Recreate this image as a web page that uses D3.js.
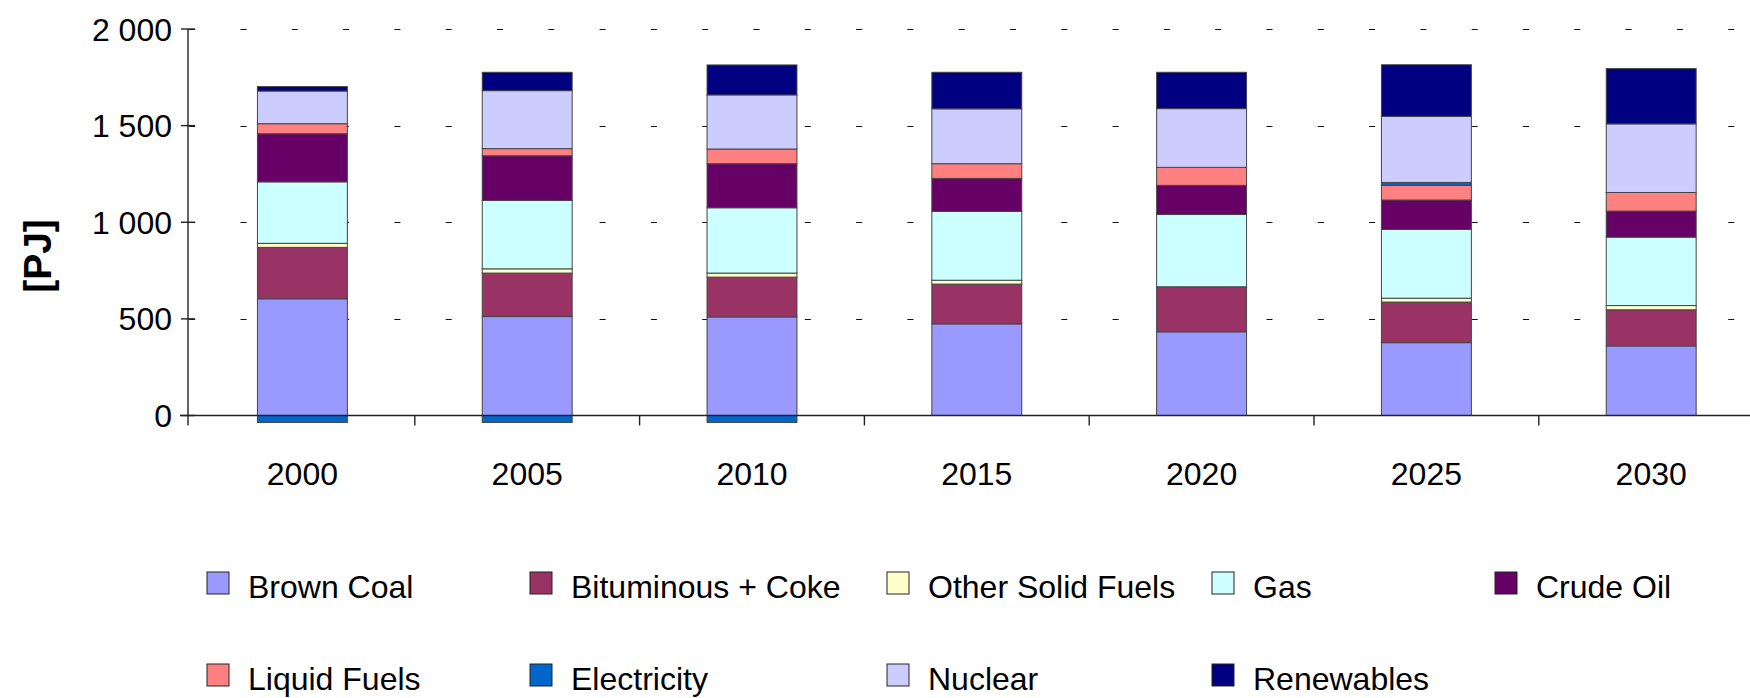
<!DOCTYPE html>
<html>
<head>
<meta charset="utf-8">
<script src="https://cdn.jsdelivr.net/npm/d3@7"></script>
<style>
  body { margin: 0; background: #fff; }
  svg { display: block; font-family: "Liberation Sans", Arial, sans-serif; }
</style>
</head>
<body>
<div id="chart"></div>
<script>
(function(d3) {
  'use strict';

  // data (PJ)
  var years = ['2000', '2005', '2010', '2015', '2020', '2025', '2030'];
  var seriesNames = ['Brown Coal', 'Bituminous + Coke', 'Other Solid Fuels', 'Gas', 'Crude Oil',
    'Liquid Fuels', 'Electricity', 'Nuclear', 'Renewables'];
  var brownCoal   = [604, 512, 510, 474, 433, 377, 360];
  var bituminous  = [266, 225, 206, 206, 231, 210, 187];
  var otherSolid  = [21, 22, 21, 20, 2, 20, 22];
  var gas         = [318, 354, 338, 356, 374, 356, 354];
  var crudeOil    = [249, 231, 228, 171, 151, 152, 135];
  var liquidFuels = [52, 37, 76, 76, 93, 76, 96];
  var electricity = [-36, -36, -36, 0, 0, 15, 0];
  var nuclear     = [169, 300, 280, 284, 304, 342, 355];
  var renewables  = [23, 95, 155, 189, 188, 267, 286];
  var yTicks = [0, 500, 1000, 1500, 2000];
  var yTickLabels = ['0', '500', '1 000', '1 500', '2 000'];

  var colors = ['#9999FF', '#993366', '#FFFFCC', '#CCFFFF', '#660066',
    '#FF8080', '#0066CC', '#CCCCFF', '#000080'];

  var values = [brownCoal, bituminous, otherSolid, gas, crudeOil,
    liquidFuels, electricity, nuclear, renewables];

  var rows = years.map(function(y, i) {
    var r = { year: y };
    seriesNames.forEach(function(s, j) { r[s] = values[j][i]; });
    return r;
  });

  var width = 1750;
  var height = 698;
  var left = 188;
  var bandStart = 190;

  var svg = d3.select('#chart')
    .append('svg')
    .attr('width', width)
    .attr('height', height);

  var x = d3.scaleBand()
    .domain(years)
    .range([bandStart, bandStart + 7 * 224.8])
    .paddingInner(0.6)
    .paddingOuter(0.3);

  var y = d3.scaleLinear()
    .domain([0, 2000])
    .range([415.5, 29]);

  var color = d3.scaleOrdinal().domain(seriesNames).range(colors);

  // dashed gridlines
  svg.append('g')
    .selectAll('line')
    .data(yTicks.slice(1))
    .enter()
    .append('line')
    .attr('x1', left)
    .attr('x2', width)
    .attr('y1', function(d) { return Math.round(y(d)) + 0.5; })
    .attr('y2', function(d) { return Math.round(y(d)) + 0.5; })
    .attr('stroke', '#111')
    .attr('stroke-width', 1.2)
    .attr('stroke-dasharray', '6,45.3')
    .attr('stroke-dashoffset', -52.5);

  var stack = d3.stack()
    .keys(seriesNames)
    .offset(d3.stackOffsetDiverging);

  var layers = svg.append('g')
    .selectAll('g')
    .data(stack(rows))
    .enter()
    .append('g')
    .attr('fill', function(d) { return color(d.key); });

  layers.selectAll('rect')
    .data(function(d) { return d.filter(function(p) { return p[1] !== p[0]; }); })
    .enter()
    .append('rect')
    .attr('x', function(d) { return x(d.data.year); })
    .attr('width', x.bandwidth())
    .attr('y', function(d) { return y(d[1]); })
    .attr('height', function(d) { return y(d[0]) - y(d[1]); })
    .attr('stroke', '#444')
    .attr('stroke-width', 1);

  // axes
  var axisG = svg.append('g').attr('stroke', '#222').attr('stroke-width', 1.4);
  axisG.append('line')
    .attr('x1', left).attr('x2', left)
    .attr('y1', y(2000)).attr('y2', y(0) + 10);
  axisG.append('line')
    .attr('x1', left - 8).attr('x2', width)
    .attr('y1', y(0)).attr('y2', y(0));

  axisG.selectAll('.ytick')
    .data(yTicks)
    .enter()
    .append('line')
    .attr('class', 'ytick')
    .attr('x1', left - 7).attr('x2', left + 7)
    .attr('y1', function(d) { return y(d); })
    .attr('y2', function(d) { return y(d); });

  axisG.selectAll('.xtick')
    .data(years.slice(1))
    .enter()
    .append('line')
    .attr('class', 'xtick')
    .attr('x1', function(d) { return x(d) - x.step() * x.paddingInner() / 2; })
    .attr('x2', function(d) { return x(d) - x.step() * x.paddingInner() / 2; })
    .attr('y1', y(0))
    .attr('y2', y(0) + 10);

  svg.append('g')
    .selectAll('text')
    .data(yTicks)
    .enter()
    .append('text')
    .attr('x', left - 16)
    .attr('y', function(d) { return y(d) + 11.5; })
    .attr('text-anchor', 'end')
    .style('font-size', '32px')
    .text(function(d, i) { return yTickLabels[i]; });

  svg.append('g')
    .selectAll('text')
    .data(years)
    .enter()
    .append('text')
    .attr('x', function(d) { return x(d) + x.bandwidth() / 2; })
    .attr('y', 485)
    .attr('text-anchor', 'middle')
    .style('font-size', '32px')
    .text(function(d) { return d; });

  svg.append('text')
    .attr('transform', 'translate(51,256) rotate(-90)')
    .attr('text-anchor', 'middle')
    .style('font-size', '39px')
    .style('font-weight', 'bold')
    .text('[PJ]');

  // legend, two rows like the original
  var legendCols = [207, 530, 887, 1212, 1495];
  var legendRows = [572, 664];

  var legend = svg.append('g')
    .selectAll('g')
    .data(seriesNames)
    .enter()
    .append('g')
    .attr('transform', function(d, i) {
      return 'translate(' + legendCols[i % 5] + ',' + legendRows[Math.floor(i / 5)] + ')';
    });

  legend.append('rect')
    .attr('width', 22)
    .attr('height', 22)
    .attr('fill', color)
    .attr('stroke', '#222')
    .attr('stroke-width', 1);

  legend.append('text')
    .attr('x', 41)
    .attr('y', 25.5)
    .style('font-size', '32px')
    .text(function(d) { return d; });

})(window.d3);
</script>
</body>
</html>
